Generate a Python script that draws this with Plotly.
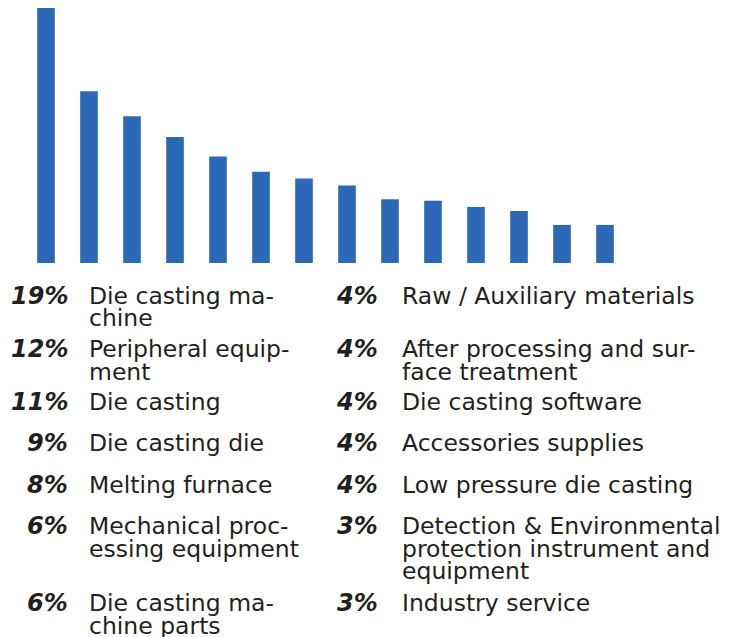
import plotly.graph_objects as go

categories = ["Die casting machine", "Peripheral equipment", "Die casting", "Die casting die",
              "Melting furnace", "Mechanical processing equipment", "Die casting machine parts",
              "Raw / Auxiliary materials", "After processing and surface treatment",
              "Die casting software", "Accessories supplies", "Low pressure die casting",
              "Detection & Environmental protection instrument and equipment", "Industry service"]
bar_values = [19.0, 12.4, 10.6, 9.1, 7.7, 6.6, 6.1, 5.6, 4.6, 4.5, 4.05, 3.75, 2.75, 2.75]
pct_labels = ["19%", "12%", "11%", "9%", "8%", "6%", "6%", "4%", "4%", "4%", "4%", "4%", "3%", "3%"]
label_lines = [["Die casting ma-", "chine"], ["Peripheral equip-", "ment"], ["Die casting"],
               ["Die casting die"], ["Melting furnace"], ["Mechanical proc-", "essing equipment"],
               ["Die casting ma-", "chine parts"], ["Raw / Auxiliary materials"],
               ["After processing and sur-", "face treatment"], ["Die casting software"],
               ["Accessories supplies"], ["Low pressure die casting"],
               ["Detection & Environmental", "protection instrument and", "equipment"],
               ["Industry service"]]
row_y = [296, 349, 402, 443, 485, 526, 603, 296, 349, 402, 443, 485, 526, 603]

W, H = 734, 637
OFF = 8  # page offset of the figure inside the window
fig = go.Figure()
fig.add_trace(go.Bar(x=list(range(len(categories))), y=bar_values, width=0.41,
                     marker=dict(color="#2b68b5", line=dict(width=0)),
                     hovertext=categories, showlegend=False))

ann = []
for i, (p, lines, y) in enumerate(zip(pct_labels, label_lines, row_y)):
    col_right = (70 if i < 7 else 380) - OFF
    text_left = (87 if i < 7 else 400) - OFF
    yy = y - OFF
    ann.append(dict(x=col_right / W, y=1 - (yy) / H, xref="paper", yref="paper",
                    text="<b><i>" + p + "</i></b>", showarrow=False, xanchor="right", yanchor="middle",
                    font=dict(family="DejaVu Sans", size=24, color="#231f20")))
    for j, ln in enumerate(lines):
        ann.append(dict(x=text_left / W, y=1 - (yy + j * 22.5) / H, xref="paper", yref="paper",
                        text=ln, showarrow=False, xanchor="left", yanchor="middle",
                        font=dict(family="DejaVu Sans", size=23.5, color="#231f20")))

k = 43.0
a = -(46.0 - OFF) / k
bottom = 263 - OFF
fig.update_layout(
    width=W, height=H, margin=dict(l=0, r=0, t=0, b=0),
    paper_bgcolor="white", plot_bgcolor="white",
    xaxis=dict(range=[a, a + W / k], visible=False, fixedrange=True),
    yaxis=dict(range=[0, 19.0 * bottom / 263], domain=[1 - bottom / H, 1], visible=False, fixedrange=True),
    annotations=ann, bargap=0.59,
)
fig.write_html("out.html")
